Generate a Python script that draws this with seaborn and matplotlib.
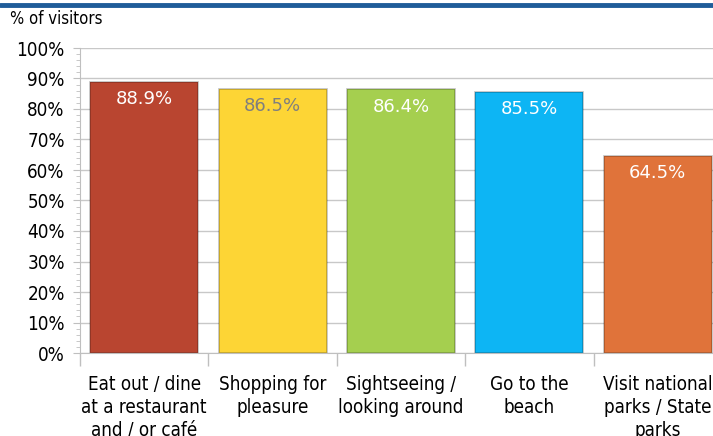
import numpy as np
import pandas as pd
import seaborn as sns
import matplotlib.pyplot as plt
from matplotlib.ticker import MultipleLocator, FixedLocator
from matplotlib.lines import Line2D

# data
categories = ["Eat out / dine\nat a restaurant\nand / or café", "Shopping for\npleasure",
              "Sightseeing /\nlooking around", "Go to the\nbeach", "Visit national\nparks / State\nparks"]
values = [88.9, 86.5, 86.4, 85.5, 64.5]
bar_colors = ["#B94530", "#FDD535", "#A5CF4F", "#0DB5F4", "#E0733A"]
label_colors = ["white", "#7F7F7F", "white", "white", "white"]

sns.set_style("white")
plt.rcParams["font.family"] = ["DejaVu Sans"]
plt.rcParams["font.stretch"] = "condensed"
plt.rcParams["text.color"] = "black"

df = pd.DataFrame({"cat": categories, "val": values})

fig = plt.figure(figsize=(7.13, 4.36), dpi=100)
ax = fig.add_axes([80 / 713, 83 / 436, 642 / 713, 305 / 436])

sns.barplot(data=df, x="cat", y="val", hue="cat", palette=bar_colors, legend=False,
            width=0.84, ax=ax, edgecolor="#00000040", linewidth=1.2, saturation=1)

for i, v in enumerate(values):
    ax.text(i, v - 5.6, f"{v:.1f}%", ha="center", va="center", fontsize=13,
            color=label_colors[i], fontstretch="normal")

ax.set_ylim(0, 100)
ax.set_xlim(-0.5, 4.5)
ax.yaxis.set_major_locator(MultipleLocator(10))
ax.yaxis.set_minor_locator(MultipleLocator(2))
ax.set_yticklabels([f"{int(t)}%" for t in ax.get_yticks()])
ax.yaxis.grid(True, color="#C8C8C8", linewidth=1)
ax.set_axisbelow(True)
ax.xaxis.set_minor_locator(FixedLocator(np.arange(-0.5, 5, 1)))
ax.tick_params(axis="x", which="major", length=0, pad=16, labelsize=13.5, labelcolor="black")
ax.tick_params(axis="x", which="minor", length=9, color="#BFBFBF", width=1, bottom=True)
ax.tick_params(axis="y", which="major", length=5, color="#BFBFBF", labelsize=13.5,
               labelcolor="black", left=True, pad=6)
ax.tick_params(axis="y", which="minor", length=3, color="#BFBFBF", left=True)
for lbl in ax.get_xticklabels():
    lbl.set_linespacing(1.25)
for s in ["top", "right"]:
    ax.spines[s].set_visible(False)
for s in ["left", "bottom"]:
    ax.spines[s].set_color("#BFBFBF")
ax.set_xlabel("")
ax.set_ylabel("")

fig.text(10 / 713, 1 - 19 / 436, "% of visitors", fontsize=12, va="center", ha="left")
fig.add_artist(Line2D([0, 1], [1 - 5 / 436, 1 - 5 / 436], color="#1F5C99", linewidth=3.5,
                      transform=fig.transFigure))

fig.savefig("out.png", dpi=100)
